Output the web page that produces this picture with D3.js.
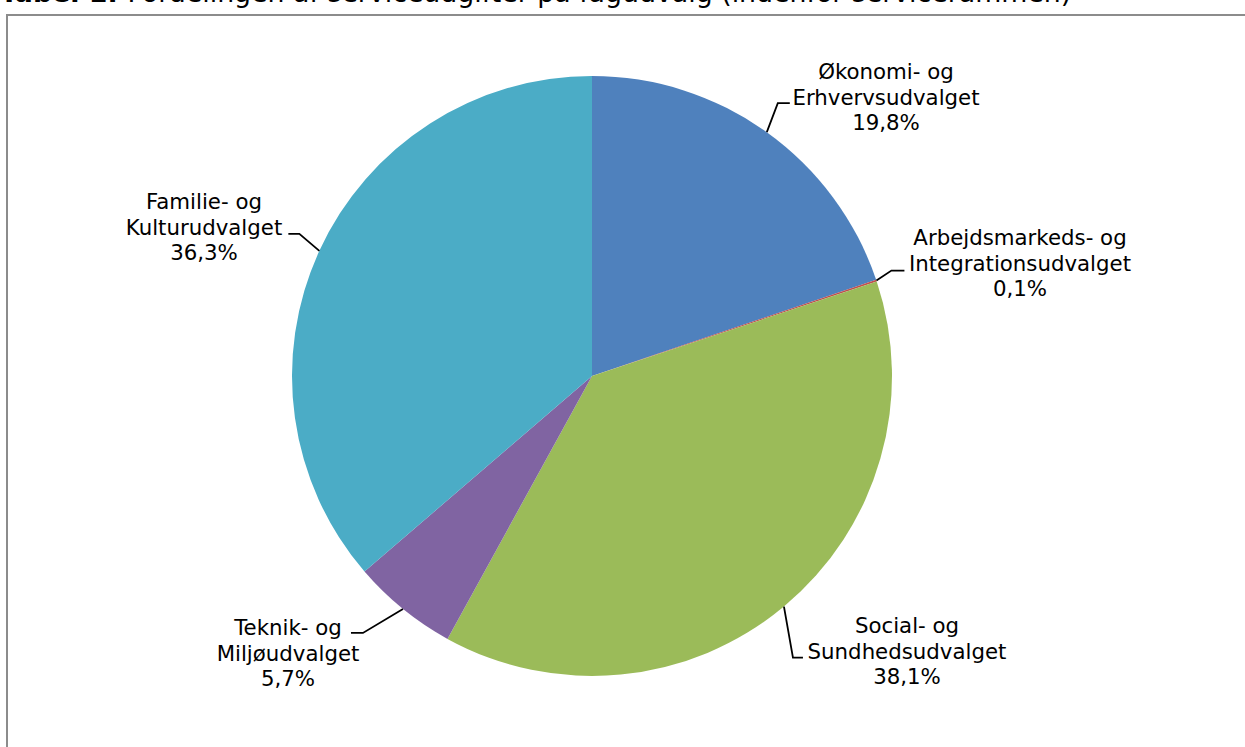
<!DOCTYPE html>
<html>
<head>
<meta charset="utf-8">
<script src="https://cdn.jsdelivr.net/npm/d3@7.9.0/dist/d3.min.js"></script>
<style>
  body { margin: 0; background: #fff; }
  svg { display: block; font-family: "DejaVu Sans", Verdana, sans-serif; }
</style>
</head>
<body>
<svg width="1245" height="747"></svg>
<script>
// chart data
const categories = [
  'Økonomi- og Erhvervsudvalget',
  'Arbejdsmarkeds- og Integrationsudvalget',
  'Social- og Sundhedsudvalget',
  'Teknik- og Miljøudvalget',
  'Familie- og Kulturudvalget'
];
const labelLines = [
  ['Økonomi- og', 'Erhvervsudvalget'],
  ['Arbejdsmarkeds- og', 'Integrationsudvalget'],
  ['Social- og', 'Sundhedsudvalget'],
  ['Teknik- og', 'Miljøudvalget'],
  ['Familie- og', 'Kulturudvalget']
];
const shares = [19.8, 0.1, 38.1, 5.7, 36.3];
const colors = ['#4F81BD', '#C0504D', '#9BBB59', '#8064A2', '#4BACC6'];

// label layout: elbow offset from the pie edge, horizontal tail, text centre
const labelLayout = [
  { elbow: [11, -29], tail: 12, text: [886, 72] },
  { elbow: [15, -10], tail: 13, text: [1020, 238] },
  { elbow: [9, 51], tail: 10, text: [907, 626] },
  { elbow: [-40, 24], tail: -12, text: [288, 628] },
  { elbow: [-20, -17], tail: -11, text: [204, 202] }
];

const svg = d3.select('svg');
const cx = 592, cy = 376, radius = 300;
const lineGap = 25.5;

// caption above the frame (cut off at the top, as in the source)
const title = svg.append('text')
  .attr('x', 0)
  .attr('y', 2)
  .attr('fill', '#000')
  .style('font-size', '20px');
title.append('tspan').attr('font-weight', 'bold').text('Tabel 1: ');
title.append('tspan').text('Fordelingen af serviceudgifter på fagudvalg (indenfor servicerammen)');
const tw = title.node().getComputedTextLength();
title.style('font-size', (20 * 1072 / tw) + 'px');

// chart frame
svg.append('rect')
  .attr('x', 7)
  .attr('y', 15)
  .attr('width', 1260)
  .attr('height', 760)
  .attr('fill', 'none')
  .attr('stroke', '#8c8c8c')
  .attr('stroke-width', 2);

const pie = d3.pie().sort(null).value(d => d);
const arcs = pie(shares);
const arc = d3.arc().innerRadius(0).outerRadius(radius);
const edge = d3.arc().innerRadius(radius).outerRadius(radius);

const g = svg.append('g').attr('transform', `translate(${cx},${cy})`);

g.selectAll('path.slice')
  .data(arcs)
  .join('path')
  .attr('class', 'slice')
  .attr('d', arc)
  .attr('fill', (d, i) => colors[i]);

// leader lines
arcs.forEach((d, i) => {
  const [ex, ey] = edge.centroid(d);
  const L = labelLayout[i];
  const bx = ex + L.elbow[0], by = ey + L.elbow[1];
  g.append('polyline')
    .attr('points', `${ex},${ey} ${bx},${by} ${bx + L.tail},${by}`)
    .attr('fill', 'none')
    .attr('stroke', '#000')
    .attr('stroke-width', 1.8);
});

// labels
arcs.forEach((d, i) => {
  const L = labelLayout[i];
  const lines = labelLines[i].concat([d3.format('.1f')(shares[i]).replace('.', ',') + '%']);
  const t = svg.append('text')
    .attr('text-anchor', 'middle')
    .attr('fill', '#000')
    .style('font-size', '21.3px');
  lines.forEach((s, k) => {
    t.append('tspan')
      .attr('x', L.text[0])
      .attr('y', L.text[1] + k * lineGap)
      .attr('dy', '0.35em')
      .text(s);
  });
});
</script>
</body>
</html>
